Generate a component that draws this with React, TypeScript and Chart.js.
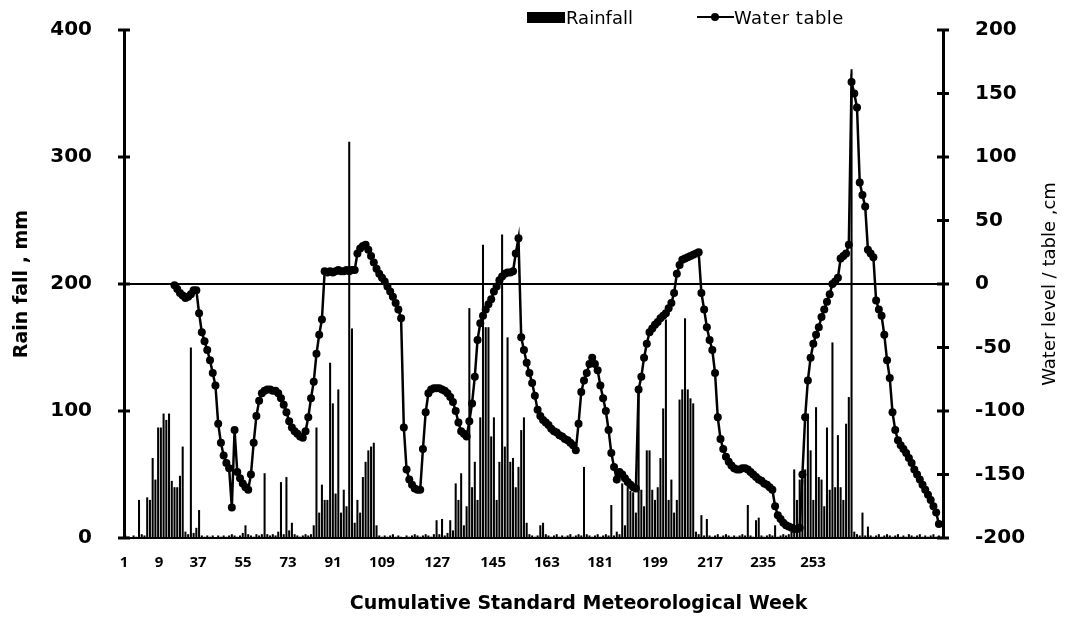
import React, { useEffect, useRef } from "react";
import { Chart, registerables } from "chart.js";

Chart.register(...registerables);

// Weekly rainfall (mm), cumulative standard meteorological weeks 1..300
const rainfall: number[] = [
  2, 1, 0, 2, 1, 30, 3, 2, 32, 30,
  63, 46, 87, 87, 98, 93, 98, 45, 40, 40,
  49, 72, 5, 3, 150, 4, 8, 22, 2, 1,
  2, 1, 2, 0, 2, 1, 2, 1, 2, 3,
  2, 1, 2, 4, 10, 3, 2, 1, 3, 2,
  3, 51, 3, 2, 3, 2, 5, 44, 3, 48,
  6, 12, 3, 2, 1, 2, 3, 2, 3, 10,
  87, 20, 42, 30, 30, 138, 106, 35, 117, 20,
  38, 25, 312, 165, 12, 30, 20, 48, 60, 69,
  72, 75, 10, 2, 1, 2, 1, 2, 3, 1,
  2, 1, 0, 2, 1, 2, 3, 2, 1, 2,
  3, 2, 1, 3, 14, 3, 15, 2, 4, 14,
  6, 43, 30, 51, 10, 25, 181, 40, 60, 30,
  95, 231, 166, 166, 80, 95, 30, 60, 239, 72,
  158, 60, 63, 40, 56, 85, 95, 12, 3, 2,
  1, 2, 10, 12, 3, 2, 1, 2, 3, 1,
  2, 1, 2, 3, 1, 2, 3, 2, 56, 3,
  2, 1, 2, 3, 1, 2, 3, 2, 26, 2,
  5, 3, 43, 10, 40, 37, 36, 20, 119, 38,
  25, 69, 69, 38, 30, 40, 63, 102, 172, 30,
  46, 20, 30, 109, 117, 173, 117, 110, 106, 5,
  3, 18, 2, 15, 2, 1, 2, 3, 1, 2,
  3, 2, 1, 2, 1, 2, 3, 2, 26, 2,
  1, 14, 16, 2, 1, 2, 3, 2, 10, 1,
  2, 3, 2, 3, 5, 54, 30, 46, 46, 54,
  98, 69, 30, 103, 48, 46, 25, 87, 38, 154,
  40, 81, 40, 30, 90, 111, 369, 5, 3, 2,
  20, 2, 9, 2, 1, 2, 3, 1, 2, 3,
  2, 1, 2, 3, 1, 2, 1, 3, 2, 1,
  2, 3, 1, 2, 1, 2, 3, 1, 2, 1,
];

// Water table (cm), weekly from week 19 to week 299
const WATER_START_WEEK = 19;
const waterTable: number[] = [
  -1, -4, -7, -9, -11, -10, -8, -5, -5, -23,
  -38, -45, -52, -60, -70, -80, -110, -125, -135, -141,
  -145, -176, -115, -148, -153, -157, -160, -162, -150, -125,
  -104, -92, -86, -84, -83, -83, -84, -84, -86, -90,
  -95, -101, -108, -113, -116, -118, -120, -121, -116, -105,
  -90, -77, -55, -40, -28, 10, 9, 10, 9, 10,
  11, 10, 10, 11, 10, 11, 11, 24, 28, 30,
  31, 27, 22, 17, 12, 8, 5, 2, -2, -6,
  -10, -15, -20, -27, -113, -146, -154, -158, -161, -162,
  -162, -130, -101, -86, -83, -82, -82, -82, -83, -84,
  -86, -89, -93, -100, -109, -116, -118, -120, -108, -94,
  -73, -44, -31, -25, -20, -16, -12, -6, -2, 3,
  6, 8, 9, 9, 10, 24, 36, -42, -52, -62,
  -70, -78, -88, -99, -104, -107, -109, -111, -114, -116,
  -117, -119, -120, -122, -123, -125, -127, -131, -110, -85,
  -76, -70, -63, -58, -63, -68, -80, -90, -100, -115,
  -133, -144, -154, -148, -150, -153, -156, -158, -160, -161,
  -83, -73, -58, -47, -38, -35, -32, -30, -27, -25,
  -23, -19, -15, -7, 8, 15, 19, 20, 21, 22,
  23, 24, 25, -7, -20, -34, -44, -52, -70, -105,
  -122, -130, -136, -140, -143, -145, -146, -146, -145, -145,
  -146, -148, -150, -152, -154, -155, -157, -158, -160, -162,
  -175, -182, -185, -188, -190, -191, -192, -193, -193, -192,
  -150, -105, -76, -58, -47, -40, -34, -26, -20, -14,
  -8, 0, 2, 5, 20, 22, 24, 31, 159, 150,
  139, 80, 70, 61, 27, 24, 21, -13, -20, -25,
  -40, -60, -74, -101, -115, -123, -127, -130, -133, -137,
  -141, -146, -150, -154, -158, -162, -166, -170, -175, -180,
  -189,
];

// X-axis labels as printed in the source, and where they sit (in week units)
const xTickLabels: string[] = ["1", "9", "37", "55", "73", "91", "109", "127", "145", "163", "181", "199", "217", "235", "253"];
const xTickWeeks: number[] = [0.5, 13.3, 27.6, 44.1, 60.6, 77.1, 95.0, 115.2, 135.7, 155.4, 174.9, 195.0, 215.2, 234.6, 252.9];

const rainTicks: number[] = [0, 100, 200, 300, 400];
const waterTicks: number[] = [-200, -150, -100, -50, 0, 50, 100, 150, 200];

const FONT = '"DejaVu Sans", "Liberation Sans", Arial, sans-serif';
const X_TITLE = "Cumulative Standard Meteorological Week";
const Y2_TITLE = "Water level / table ,cm";

const axisDecorPlugin = {
  id: "axisDecor",
  afterDraw(chart: any) {
    const ctx = chart.ctx;
    const ca = chart.chartArea;
    ctx.save();
    ctx.strokeStyle = "#000";
    ctx.lineWidth = 3;
    ["y", "y2"].forEach((id) => {
      const s = chart.scales[id];
      const ax = id === "y" ? s.right : s.left;
      s.ticks.forEach((t: any) => {
        const py = s.getPixelForValue(t.value);
        ctx.beginPath();
        ctx.moveTo(ax - 6, py);
        ctx.lineTo(ax + 6, py);
        ctx.stroke();
      });
    });
    ctx.fillStyle = "#000";
    ctx.textAlign = "center";
    ctx.textBaseline = "middle";
    // x-axis title
    ctx.font = `bold 19px ${FONT}`;
    ctx.fillText(X_TITLE, ca.left + (ca.right - ca.left) * 0.555, chart.scales.x.bottom - 15);
    // right-axis title, reading bottom-to-top
    const y2 = chart.scales.y2;
    ctx.translate(y2.right - 20, (ca.top + ca.bottom) / 2);
    ctx.rotate(-Math.PI / 2);
    ctx.font = `18px ${FONT}`;
    ctx.fillText(Y2_TITLE, 0, 0);
    ctx.restore();
  },
};

export default function App() {
  const canvasRef = useRef<HTMLCanvasElement>(null);

  useEffect(() => {
    const canvas = canvasRef.current;
    if (!canvas) return;
    const chart = new Chart(canvas, {
      type: "bar",
      data: {
        datasets: [
          {
            type: "line",
            label: "Water table",
            data: waterTable.map((v, i) => ({ x: WATER_START_WEEK + i, y: v })),
            borderColor: "#000",
            backgroundColor: "#000",
            borderWidth: 2.5,
            pointRadius: 4,
            pointBackgroundColor: "#000",
            pointBorderWidth: 0,
            tension: 0,
            yAxisID: "y2",
            xAxisID: "x",
            order: 1,
          } as any,
          {
            type: "bar",
            label: "Rainfall",
            data: rainfall.map((v, i) => ({ x: i + 1, y: v })),
            backgroundColor: "#000",
            borderWidth: 0,
            barPercentage: 0.75,
            categoryPercentage: 1,
            yAxisID: "y",
            xAxisID: "x",
            order: 2,
          } as any,
        ],
      },
      options: {
        responsive: false,
        animation: false,
        layout: { padding: { top: 30, left: 0, right: 0, bottom: 0 } },
        plugins: {
          legend: { display: false },
          tooltip: { enabled: false },
        },
        scales: {
          x: {
            type: "linear",
            min: 0.5,
            max: 300.5,
            offset: false,
            afterBuildTicks: (s: any) => {
              s.ticks = xTickWeeks.map((v) => ({ value: v }));
            },
            afterFit: (s: any) => {
              s.height = 81;
            },
            ticks: {
              autoSkip: false,
              maxRotation: 0,
              minRotation: 0,
              padding: 16,
              color: "#000",
              font: { family: '"Open Sans", sans-serif', weight: "bold", size: 15 },
              callback: (_v: any, i: number) => xTickLabels[i] ?? "",
            },
            grid: { display: false, drawTicks: false },
            border: { display: true, color: "#000", width: 2 },
            title: { display: false },
          },
          y: {
            type: "linear",
            position: "left",
            min: 0,
            max: 400,
            afterBuildTicks: (s: any) => {
              s.ticks = rainTicks.map((v) => ({ value: v }));
            },
            afterFit: (s: any) => {
              s.width = 124;
            },
            ticks: {
              color: "#000",
              padding: 0,
              font: { family: FONT, weight: "bold", size: 20 },
            },
            grid: { display: false, drawTicks: true, tickLength: 32, tickColor: "rgba(0,0,0,0)" },
            border: { display: true, color: "#000", width: 3 },
            title: {
              display: true,
              text: "Rain fall , mm",
              color: "#000",
              font: { family: FONT, weight: "bold", size: 19 },
              padding: { top: 11, bottom: 0 },
            },
          },
          y2: {
            type: "linear",
            position: "right",
            min: -200,
            max: 200,
            afterBuildTicks: (s: any) => {
              s.ticks = waterTicks.map((v) => ({ value: v }));
            },
            afterFit: (s: any) => {
              s.width = 127;
            },
            ticks: {
              color: "#000",
              padding: 0,
              font: { family: FONT, weight: "bold", size: 20 },
            },
            grid: {
              display: true,
              drawTicks: true,
              tickLength: 32,
              tickColor: "rgba(0,0,0,0)",
              drawOnChartArea: true,
              lineWidth: 2,
              color: (c: any) => (c.tick && c.tick.value === 0 ? "#000" : "rgba(0,0,0,0)"),
            },
            border: { display: true, color: "#000", width: 3 },
          },
        },
      },
      plugins: [axisDecorPlugin],
    });
    return () => chart.destroy();
  }, []);

  return (
    <div style={{ position: "fixed", left: 0, top: 0, width: 1070, height: 619, background: "#fff" }}>
      <canvas ref={canvasRef} width={1070} height={619} style={{ display: "block" }} />
      <div
        style={{
          position: "absolute",
          left: 527,
          top: 6,
          height: 22,
          display: "flex",
          alignItems: "center",
          fontFamily: FONT,
          fontSize: 18,
          color: "#000",
          whiteSpace: "nowrap",
        }}
      >
        <span style={{ display: "inline-block", width: 38, height: 11, background: "#000" }} />
        <span style={{ marginLeft: 1 }}>Rainfall</span>
        <span style={{ display: "inline-block", width: 64 }} />
        <span style={{ position: "relative", display: "inline-block", width: 37, height: 11 }}>
          <span style={{ position: "absolute", left: 0, top: 4, width: 37, height: 2, background: "#000" }} />
          <span
            style={{ position: "absolute", left: 14, top: 1, width: 8, height: 8, borderRadius: 4, background: "#000" }}
          />
        </span>
        <span style={{ letterSpacing: 0.5 }}>Water table</span>
      </div>
    </div>
  );
}
